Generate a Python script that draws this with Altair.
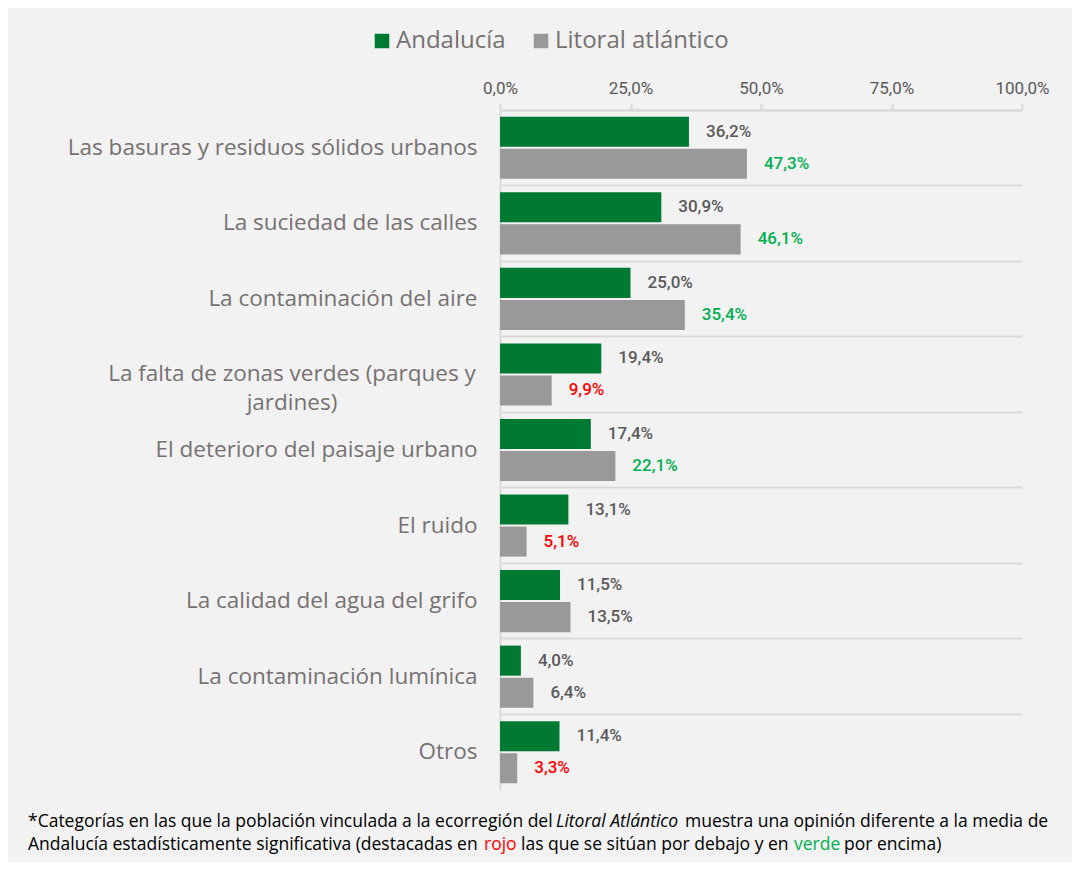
import altair as alt
import pandas as pd

categories = [
    "Las basuras y residuos sólidos urbanos",
    "La suciedad de las calles",
    "La contaminación del aire",
    "La falta de zonas verdes (parques y jardines)",
    "El deterioro del paisaje urbano",
    "El ruido",
    "La calidad del agua del grifo",
    "La contaminación lumínica",
    "Otros",
]
series = ["Andalucía", "Litoral atlántico"]
andalucia = [36.2, 30.9, 25.0, 19.4, 17.4, 13.1, 11.5, 4.0, 11.4]
litoral = [47.3, 46.1, 35.4, 9.9, 22.1, 5.1, 13.5, 6.4, 3.3]
# significance: "up" = green, "down" = red, "" = not significant
litoral_sig = ["up", "up", "up", "down", "up", "down", "", "", "down"]

SIG_COLORS = {"up": "#00b050", "down": "#ff0000", "": "#595959"}
WRAP = "La falta de zonas verdes (parques y jardines)"
WRAP_TEXT = "La falta de zonas verdes (parques y\njardines)"
FONT = "Open Sans"
NUMFONT = "Roboto"

rows = []
for i, c in enumerate(categories):
    rows.append(dict(cat=c, serie=series[0], val=andalucia[i], col="#595959"))
    rows.append(dict(cat=c, serie=series[1], val=litoral[i], col=SIG_COLORS[litoral_sig[i]]))
df = pd.DataFrame(rows)
df["label"] = df["val"].map(lambda v: f"{v:.1f}".replace(".", ",") + "%")

x_enc = alt.X(
    "val:Q",
    scale=alt.Scale(domain=[0, 100]),
    axis=alt.Axis(
        orient="top", title=None, values=[0, 25, 50, 75, 100],
        labelExpr="replace(format(datum.value, '.1f'), '.', ',') + '%'",
        labelFont=NUMFONT, labelFontSize=17, labelColor="#595959", labelPadding=6,
        labelFlush=False,
        tickSize=7, tickColor="#d9d9d9", tickWidth=2,
        domainColor="#d9d9d9", domainWidth=2, grid=False,
    ),
)
y_enc = alt.Y(
    "cat:N",
    sort=categories,
    scale=alt.Scale(domain=categories, paddingInner=0, paddingOuter=0),
    axis=alt.Axis(
        title=None, ticks=False, bandPosition=0,
        labelExpr=f"datum.value == '{WRAP}' ? '' : datum.value",
        labelFont=FONT, labelFontSize=22.5, labelColor="#767171", labelPadding=23,
        labelLimit=600,
        domainColor="#d9d9d9", domainWidth=2,
        grid=True, gridColor="#d9d9d9", gridWidth=2,
    ),
)
yoff = alt.YOffset("serie:N", sort=series,
                   scale=alt.Scale(domain=series, paddingInner=0.0625, paddingOuter=0.21))

bars = alt.Chart(df).mark_bar().encode(
    x=x_enc,
    y=y_enc,
    yOffset=yoff,
    color=alt.Color(
        "serie:N",
        scale=alt.Scale(domain=series, range=["#007a33", "#999999"]),
        legend=alt.Legend(
            orient="none", legendX=-130, legendY=-81, direction="horizontal",
            title=None, symbolType="square", symbolSize=210, symbolStrokeWidth=0,
            labelFont=FONT, labelFontSize=24, labelColor="#767171", labelLimit=400,
            columnPadding=23, labelOffset=2, padding=0,
        ),
    ),
)

labels = alt.Chart(df).mark_text(
    align="left", baseline="middle", dx=17, fontSize=17, font=NUMFONT, fontWeight=500
).encode(
    x="val:Q",
    y=alt.Y("cat:N", sort=categories),
    yOffset=alt.YOffset("serie:N", sort=series),
    text="label:N",
    fill=alt.Fill("col:N", scale=None),
)

wrap_label = alt.Chart(pd.DataFrame({"cat": [WRAP]})).mark_text(
    align="center", baseline="middle", lineBreak="\n", lineHeight=29,
    fontSize=22.5, font=FONT, color="#767171",
).encode(
    y=alt.Y("cat:N", sort=categories),
    x=alt.value(-208),
    text=alt.value(WRAP_TEXT),
)


def seg(text, x, y, color="#000000", italic=False):
    return alt.Chart(pd.DataFrame({"a": [0]})).mark_text(
        align="left", baseline="middle", fontSize=17.5, font=FONT,
        fontStyle="italic" if italic else "normal", color=color,
    ).encode(x=alt.value(x), y=alt.value(y), text=alt.value(text))


footer = [
    seg("*Categorías en las que la población vinculada a la ecorregión del", -472, 712),
    seg("Litoral Atlántico", 56, 712, italic=True),
    seg("muestra una opinión diferente a la media de", 185, 712),
    seg("Andalucía estadísticamente significativa (destacadas en", -472, 735),
    seg("rojo", -16, 735, color="#ff0000"),
    seg("las que se sitúan por debajo y en", 21, 735),
    seg("verde", 294, 735, color="#00b050"),
    seg("por encima)", 344, 735),
]

chart = alt.layer(bars, labels, wrap_label, *footer).properties(
    width=522,
    height=680,
    background="#f2f2f2",
    autosize=alt.AutoSizeParams(type="none"),
    padding={"left": 492, "top": 102, "right": 50, "bottom": 72},
).configure_view(stroke=None)

chart.save("out.html", embed_options={"renderer": "svg", "actions": False})
